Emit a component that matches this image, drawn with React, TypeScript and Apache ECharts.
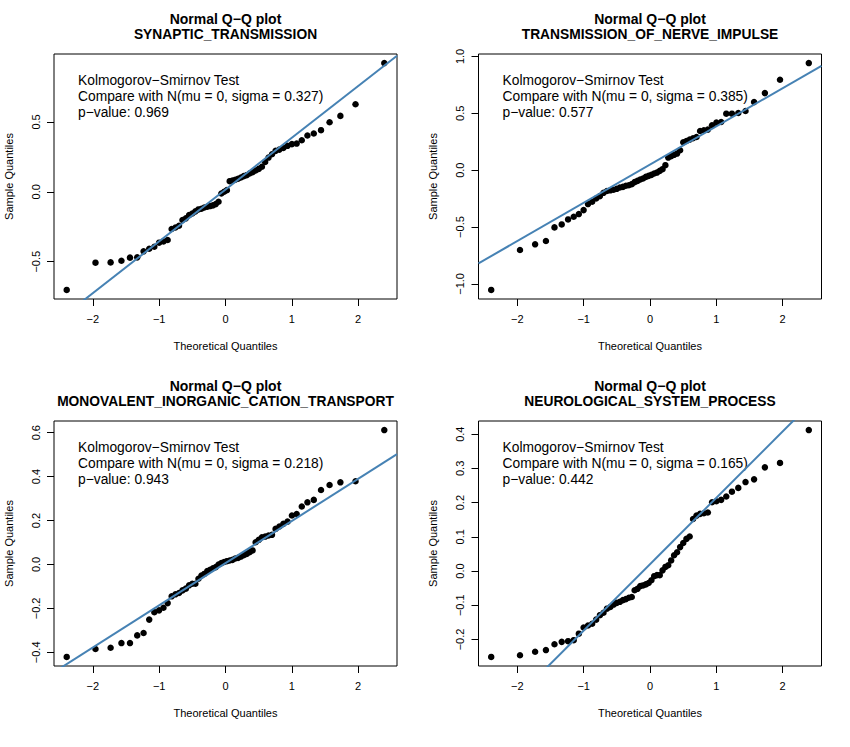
import React, { useEffect, useRef } from "react";
import * as echarts from "echarts";

// Theoretical normal quantiles shared by all four panels (60 points)
const theoreticalQuantiles = [
  -2.394, -1.96, -1.732, -1.569, -1.44, -1.331, -1.235, -1.15, -1.073, -1.001,
  -0.935, -0.872, -0.812, -0.755, -0.701, -0.649, -0.598, -0.549, -0.501, -0.454,
  -0.408, -0.363, -0.319, -0.275, -0.232, -0.189, -0.147, -0.105, -0.063, -0.021,
  0.021, 0.063, 0.105, 0.147, 0.189, 0.232, 0.275, 0.319, 0.363, 0.408,
  0.454, 0.501, 0.549, 0.598, 0.649, 0.701, 0.755, 0.812, 0.872, 0.935,
  1.001, 1.073, 1.15, 1.235, 1.331, 1.44, 1.569, 1.732, 1.96, 2.394,
];

const synapticValues = [
  -0.702, -0.507, -0.505, -0.493, -0.471, -0.469, -0.426, -0.407, -0.393, -0.364,
  -0.355, -0.345, -0.266, -0.255, -0.243, -0.202, -0.19, -0.167, -0.155, -0.14,
  -0.126, -0.121, -0.112, -0.107, -0.102, -0.097, -0.088, -0.071, -0.012, 0.0,
  0.012, 0.076, 0.081, 0.086, 0.093, 0.102, 0.112, 0.119, 0.131, 0.14,
  0.152, 0.164, 0.179, 0.214, 0.245, 0.269, 0.293, 0.302, 0.314, 0.329,
  0.341, 0.345, 0.369, 0.403, 0.417, 0.441, 0.498, 0.543, 0.626, 0.921,
];

const nerveImpulseValues = [
  -1.053, -0.702, -0.652, -0.623, -0.503, -0.477, -0.433, -0.409, -0.386, -0.351,
  -0.298, -0.278, -0.249, -0.228, -0.199, -0.183, -0.177, -0.172, -0.164, -0.152,
  -0.147, -0.137, -0.132, -0.123, -0.105, -0.094, -0.082, -0.073, -0.059, -0.05,
  -0.041, -0.029, -0.021, -0.006, 0.009, 0.044, 0.111, 0.123, 0.135, 0.146,
  0.175, 0.246, 0.257, 0.269, 0.281, 0.292, 0.345, 0.351, 0.357, 0.395,
  0.418, 0.424, 0.497, 0.497, 0.503, 0.52, 0.599, 0.678, 0.795, 0.942,
];

const cationTransportValues = [
  -0.421, -0.385, -0.379, -0.358, -0.358, -0.323, -0.312, -0.251, -0.217, -0.209,
  -0.197, -0.176, -0.145, -0.136, -0.13, -0.118, -0.11, -0.095, -0.088, -0.088,
  -0.065, -0.05, -0.043, -0.03, -0.024, -0.017, -0.012, 0.0, 0.006, 0.011,
  0.015, 0.018, 0.021, 0.027, 0.03, 0.036, 0.042, 0.048, 0.056, 0.064,
  0.101, 0.112, 0.124, 0.127, 0.132, 0.135, 0.162, 0.173, 0.185, 0.195,
  0.223, 0.23, 0.264, 0.283, 0.294, 0.339, 0.362, 0.374, 0.379, 0.612,
];

const neuroProcessValues = [
  -0.251, -0.246, -0.236, -0.231, -0.214, -0.207, -0.205, -0.202, -0.183, -0.165,
  -0.159, -0.154, -0.142, -0.129, -0.122, -0.11, -0.105, -0.098, -0.093, -0.09,
  -0.085, -0.082, -0.078, -0.076, -0.056, -0.052, -0.044, -0.042, -0.039, -0.035,
  -0.027, -0.015, -0.012, -0.012, 0.002, 0.012, 0.017, 0.031, 0.046, 0.055,
  0.07, 0.082, 0.094, 0.101, 0.152, 0.162, 0.167, 0.169, 0.171, 0.201,
  0.204, 0.208, 0.218, 0.232, 0.243, 0.26, 0.268, 0.303, 0.316, 0.412,
];

const panelNames = [
  "SYNAPTIC_TRANSMISSION",
  "TRANSMISSION_OF_NERVE_IMPULSE",
  "MONOVALENT_INORGANIC_CATION_TRANSPORT",
  "NEUROLOGICAL_SYSTEM_PROCESS",
];
const panelValues = [synapticValues, nerveImpulseValues, cationTransportValues, neuroProcessValues];
const sigmaLabels = ["0.327", "0.385", "0.218", "0.165"];
const pValueLabels = ["0.969", "0.577", "0.943", "0.442"];
// reference line (intercept, slope) per panel
const lineIntercepts = [0.016, 0.049, 0.006, 0.02];
const lineSlopes = [0.3705, 0.336, 0.192, 0.194];

const xTickValues = [-2, -1, 0, 1, 2];
const yTickValues = [
  [-0.5, 0, 0.5],
  [-1, -0.5, 0, 0.5, 1],
  [-0.4, -0.2, 0, 0.2, 0.4, 0.6],
  [-0.2, -0.1, 0, 0.1, 0.2, 0.3, 0.4],
];

// layout (pixels)
const gridLefts = [54, 478.5, 54, 478.5];
const gridTops = [54, 54, 421, 421];
const GRID_W = 343;
const GRID_H = 245;

const FONT = '"Liberation Sans", Arial, Helvetica, sans-serif';
const LINE_COLOR = "#4682B4";

const minus = (s: string) => s.replace(/-/g, "\u2212");

function extend(vals: number[]) {
  const lo = Math.min(...vals);
  const hi = Math.max(...vals);
  const pad = (hi - lo) * 0.04;
  return [lo - pad, hi + pad];
}

export default function App() {
  const ref = useRef<HTMLDivElement>(null);

  useEffect(() => {
    if (!ref.current) return;
    const chart = echarts.init(ref.current, undefined, { renderer: "svg" });

    const [xMin, xMax] = extend(theoreticalQuantiles);

    const grids: any[] = [];
    const xAxes: any[] = [];
    const yAxes: any[] = [];
    const series: any[] = [];
    const graphics: any[] = [];

    panelValues.forEach((vals, i) => {
      const left = gridLefts[i];
      const top = gridTops[i];
      const [yMin, yMax] = extend(vals);
      grids.push({
        left,
        top,
        width: GRID_W,
        height: GRID_H,
        show: true,
        borderColor: "#000",
        borderWidth: 1,
        backgroundColor: "transparent",
        containLabel: false,
        outerBoundsMode: "none",
      });
      xAxes.push({
        gridIndex: i,
        type: "value",
        min: xMin,
        max: xMax,
        axisLine: { show: false, onZero: false },
        axisTick: {
          show: true,
          inside: false,
          length: 7,
          customValues: xTickValues,
          lineStyle: { color: "#000", width: 1 },
        },
        axisLabel: {
          show: true,
          customValues: xTickValues,
          formatter: (v: number) => minus(String(v)),
          fontSize: 11,
          fontFamily: FONT,
          color: "#000",
          margin: 14,
        },
        splitLine: { show: false },
        name: "Theoretical Quantiles",
        nameLocation: "middle",
        nameGap: 41,
        nameTextStyle: { fontSize: 11, fontFamily: FONT, color: "#000" },
      });
      yAxes.push({
        gridIndex: i,
        type: "value",
        min: yMin,
        max: yMax,
        axisLine: { show: false, onZero: false },
        axisTick: {
          show: true,
          inside: false,
          length: 7,
          customValues: yTickValues[i],
          lineStyle: { color: "#000", width: 1 },
        },
        axisLabel: {
          show: true,
          rotate: 90,
          customValues: yTickValues[i],
          formatter: (v: number) => minus(v.toFixed(1)),
          fontSize: 11,
          fontFamily: FONT,
          color: "#000",
          margin: 13,
        },
        splitLine: { show: false },
        name: "Sample Quantiles",
        nameLocation: "middle",
        nameGap: 40,
        nameRotate: 90,
        nameTextStyle: { fontSize: 11, fontFamily: FONT, color: "#000" },
      });
      series.push({
        type: "scatter",
        xAxisIndex: i,
        yAxisIndex: i,
        symbol: "circle",
        symbolSize: 6.5,
        itemStyle: { color: "#000", opacity: 1 },
        data: theoreticalQuantiles.map((q, k) => [q, vals[k]]),
        z: 2,
      });
      series.push({
        type: "line",
        xAxisIndex: i,
        yAxisIndex: i,
        symbol: "none",
        clip: true,
        lineStyle: { color: LINE_COLOR, width: 2 },
        data: [
          [xMin, lineIntercepts[i] + lineSlopes[i] * xMin],
          [xMax, lineIntercepts[i] + lineSlopes[i] * xMax],
        ],
        z: 3,
      });

      const cx = left + GRID_W / 2;
      const titleTop = top - 54;
      graphics.push({
        type: "text",
        x: cx,
        y: titleTop + 19,
        style: {
          text: "Normal Q\u2212Q plot",
          fontSize: 14,
          fontWeight: "bold",
          fontFamily: FONT,
          fill: "#000",
          align: "center",
          verticalAlign: "middle",
          textAlign: "center",
          textVerticalAlign: "middle",
        },
      });
      graphics.push({
        type: "text",
        x: cx,
        y: titleTop + 34.5,
        style: {
          text: panelNames[i],
          fontSize: 13.8,
          fontWeight: "bold",
          fontFamily: FONT,
          fill: "#000",
          align: "center",
          verticalAlign: "middle",
          textAlign: "center",
          textVerticalAlign: "middle",
        },
      });
      const ksLines = [
        "Kolmogorov\u2212Smirnov Test",
        `Compare with N(mu = 0, sigma = ${sigmaLabels[i]})`,
        `p\u2212value: ${pValueLabels[i]}`,
      ];
      const ksOffsets = [26.5, 42.5, 58.3];
      ksLines.forEach((t, k) => {
        graphics.push({
          type: "text",
          x: left + 24,
          y: top + ksOffsets[k],
          style: {
            text: t,
            fontSize: 13.8,
            fontFamily: FONT,
            fill: "#000",
            align: "left",
            verticalAlign: "middle",
            textAlign: "left",
            textVerticalAlign: "middle",
          },
        });
      });
    });

    chart.setOption({
      animation: false,
      backgroundColor: "#fff",
      textStyle: { fontFamily: FONT },
      grid: grids,
      xAxis: xAxes,
      yAxis: yAxes,
      series,
      graphic: graphics,
    });

    return () => chart.dispose();
  }, []);

  return (
    <div
      ref={ref}
      style={{ position: "absolute", left: 0, top: 0, width: 850, height: 747 }}
    />
  );
}
